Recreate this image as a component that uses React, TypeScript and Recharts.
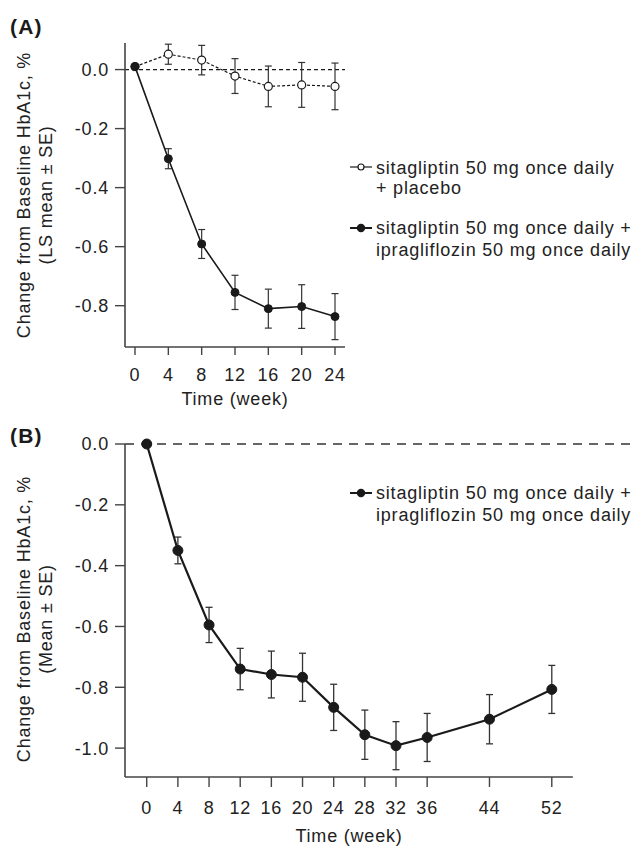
import { LineChart, Line, XAxis, YAxis, ErrorBar, ReferenceLine, Legend } from "recharts";

const FONT = "'Liberation Sans', Arial, Helvetica, sans-serif";
const INK = "#1a1a1a";
const AXIS = "#444";

// Panel A: LS mean change from baseline, weeks 0-24
const weeksA = [0, 4, 8, 12, 16, 20, 24];
const placeboMean = [0.01, 0.052, 0.032, -0.022, -0.057, -0.052, -0.057];
const placeboSE = [0, 0.034, 0.05, 0.059, 0.069, 0.076, 0.079];
const ipraMeanA = [0.01, -0.302, -0.591, -0.755, -0.81, -0.803, -0.837];
const ipraSEA = [0, 0.034, 0.049, 0.058, 0.066, 0.074, 0.078];
const yTicksA = [0, -0.2, -0.4, -0.6, -0.8];

// Panel B: mean change from baseline, weeks 0-52
const weeksB = [0, 4, 8, 12, 16, 20, 24, 28, 32, 36, 44, 52];
const ipraMeanB = [0, -0.35, -0.595, -0.74, -0.758, -0.767, -0.866, -0.956, -0.992, -0.965, -0.905, -0.807];
const ipraSEB = [0, 0.044, 0.058, 0.068, 0.077, 0.079, 0.076, 0.081, 0.079, 0.079, 0.081, 0.079];
const yTicksB = [0, -0.2, -0.4, -0.6, -0.8, -1.0];

const dataA = weeksA.map((w, i) => ({
  week: w,
  placebo: placeboMean[i],
  placeboSE: placeboSE[i],
  ipra: ipraMeanA[i],
  ipraSE: ipraSEA[i],
}));

const dataB = weeksB.map((w, i) => ({ week: w, ipra: ipraMeanB[i], ipraSE: ipraSEB[i] }));

const textStyle = { fontFamily: FONT, fontSize: 18, letterSpacing: 0.8, fill: "#222" };
const panelStyle = { fontFamily: FONT, fontSize: 21, fontWeight: "bold" as const, letterSpacing: 1.2, fill: INK };

const YTick = (props: any) => {
  const { x, y, payload } = props;
  return (
    <text x={x} y={y} dy="0.36em" textAnchor="end" style={textStyle}>
      {Number(payload.value).toFixed(1)}
    </text>
  );
};

const XTick = (props: any) => {
  const { x, y, payload } = props;
  return (
    <text x={x} y={y} dy="0.71em" textAnchor="middle" style={textStyle}>
      {payload.value}
    </text>
  );
};

const YLabel = ({ cy, lines }: { cy: number; lines: string[] }) => (
  <g>
    {lines.map((t, i) => (
      <text
        key={t}
        x={30 + i * 22}
        y={cy}
        textAnchor="middle"
        transform={`rotate(-90, ${30 + i * 22}, ${cy})`}
        style={textStyle}
      >
        {t}
      </text>
    ))}
  </g>
);

const XLabel = ({ cx, by }: { cx: number; by: number }) => (
  <text x={cx} y={by} textAnchor="middle" style={textStyle}>
    Time (week)
  </text>
);

const Sym = ({ y, open }: { y: number; open?: boolean }) => (
  <g>
    <line x1={5} x2={27} y1={y} y2={y} stroke={INK} strokeWidth={open ? 1.2 : 2} />
    <circle cx={16} cy={y} r={open ? 3 : 3.6} fill={open ? "#fff" : INK} stroke={INK} strokeWidth={1.2} />
  </g>
);

const LegendA = () => (
  <svg width={290} height={115} style={{ display: "block" }}>
    <Sym y={17} open />
    <text x={31} y={24} style={textStyle}>sitagliptin 50 mg once daily</text>
    <text x={31} y={44} style={textStyle}>+ placebo</text>
    <Sym y={78} />
    <text x={31} y={84} style={textStyle}>sitagliptin 50 mg once daily +</text>
    <text x={31} y={106} style={textStyle}>ipragliflozin 50 mg once daily</text>
  </svg>
);

const LegendB = () => (
  <svg width={290} height={50} style={{ display: "block" }}>
    <Sym y={13} />
    <text x={31} y={19} style={textStyle}>sitagliptin 50 mg once daily +</text>
    <text x={31} y={41} style={textStyle}>ipragliflozin 50 mg once daily</text>
  </svg>
);

function PanelA() {
  return (
    <LineChart width={635} height={415} data={dataA} margin={{ top: 43, right: 290, bottom: 0, left: 65 }}>
      <XAxis
        dataKey="week"
        type="number"
        domain={[-1.2, 25.2]}
        ticks={weeksA}
        height={68}
        tickSize={8}
        tickMargin={13}
        axisLine={{ stroke: AXIS, strokeWidth: 1.6 }}
        tickLine={{ stroke: AXIS, strokeWidth: 1.4 }}
        tick={<XTick />}
        label={<XLabel cx={235} by={405} />}
      />
      <YAxis
        type="number"
        domain={[-0.94, 0.09]}
        ticks={yTicksA}
        width={60}
        tickSize={10}
        tickMargin={6}
        axisLine={{ stroke: AXIS, strokeWidth: 1.6 }}
        tickLine={{ stroke: AXIS, strokeWidth: 1.4 }}
        tick={<YTick />}
        label={<YLabel cy={195} lines={["Change from Baseline HbA1c, %", "(LS mean ± SE)"]} />}
      />
      <ReferenceLine y={0} stroke={INK} strokeWidth={1.3} strokeDasharray="4 3" />
      <Legend
        layout="vertical"
        align="center"
        verticalAlign="middle"
        wrapperStyle={{ left: 345, top: 150, width: 290, height: 115 }}
        content={() => <LegendA />}
      />
      <Line
        dataKey="placebo"
        stroke={INK}
        strokeWidth={1.2}
        strokeDasharray="3 2"
        dot={{ r: 4, fill: "#fff", stroke: INK, strokeWidth: 1.2, strokeDasharray: "none" }}
        activeDot={false}
        isAnimationActive={false}
      >
        <ErrorBar dataKey="placeboSE" width={3.5} stroke="#333" strokeWidth={1.2} direction="y" />
      </Line>
      <Line
        dataKey="ipra"
        stroke={INK}
        strokeWidth={1.6}
        dot={{ r: 4, fill: INK, stroke: INK, strokeWidth: 1 }}
        activeDot={false}
        isAnimationActive={false}
      >
        <ErrorBar dataKey="ipraSE" width={3.5} stroke="#333" strokeWidth={1.2} direction="y" />
      </Line>
    </LineChart>
  );
}

function PanelB() {
  return (
    <LineChart width={635} height={432} data={dataB} margin={{ top: 29, right: 5, bottom: 0, left: 65 }}>
      <XAxis
        dataKey="week"
        type="number"
        domain={[-2.79, 62.04]}
        ticks={weeksB}
        height={70}
        tickSize={10}
        tickMargin={14}
        axisLine={false}
        tickLine={{ stroke: AXIS, strokeWidth: 1.4 }}
        tick={<XTick />}
        label={<XLabel cx={349} by={427} />}
      />
      <YAxis
        type="number"
        domain={[-1.095, 0]}
        ticks={yTicksB}
        width={60}
        tickSize={10}
        tickMargin={6}
        axisLine={{ stroke: AXIS, strokeWidth: 1.6 }}
        tickLine={{ stroke: AXIS, strokeWidth: 1.4 }}
        tick={<YTick />}
        label={<YLabel cy={204} lines={["Change from Baseline HbA1c, %", "(Mean ± SE)"]} />}
      />
      <ReferenceLine
        segment={[{ x: -2.79, y: -1.095 }, { x: 54.7, y: -1.095 }]}
        stroke={AXIS}
        strokeWidth={1.6}
        ifOverflow="visible"
      />
      <ReferenceLine y={0} stroke="#333" strokeWidth={1.3} strokeDasharray="9 7" />
      <Legend
        layout="vertical"
        align="center"
        verticalAlign="middle"
        wrapperStyle={{ left: 345, top: 65, width: 290, height: 50 }}
        content={() => <LegendB />}
      />
      <Line
        dataKey="ipra"
        stroke={INK}
        strokeWidth={2.2}
        dot={{ r: 5, fill: INK, stroke: INK, strokeWidth: 1 }}
        activeDot={false}
        isAnimationActive={false}
      >
        <ErrorBar dataKey="ipraSE" width={3.5} stroke="#333" strokeWidth={1.3} direction="y" />
      </Line>
    </LineChart>
  );
}

export default function App() {
  return (
    <div style={{ position: "absolute", left: 0, top: 0, width: 635, height: 847, background: "#fff" }}>
      <div style={{ position: "absolute", left: 0, top: 0 }}>
        <PanelA />
      </div>
      <div style={{ position: "absolute", left: 0, top: 415 }}>
        <PanelB />
      </div>
      <svg width={60} height={450} style={{ position: "absolute", left: 0, top: 0, pointerEvents: "none" }}>
        <text x={10} y={34} style={panelStyle}>(A)</text>
        <text x={10} y={443} style={panelStyle}>(B)</text>
      </svg>
    </div>
  );
}
